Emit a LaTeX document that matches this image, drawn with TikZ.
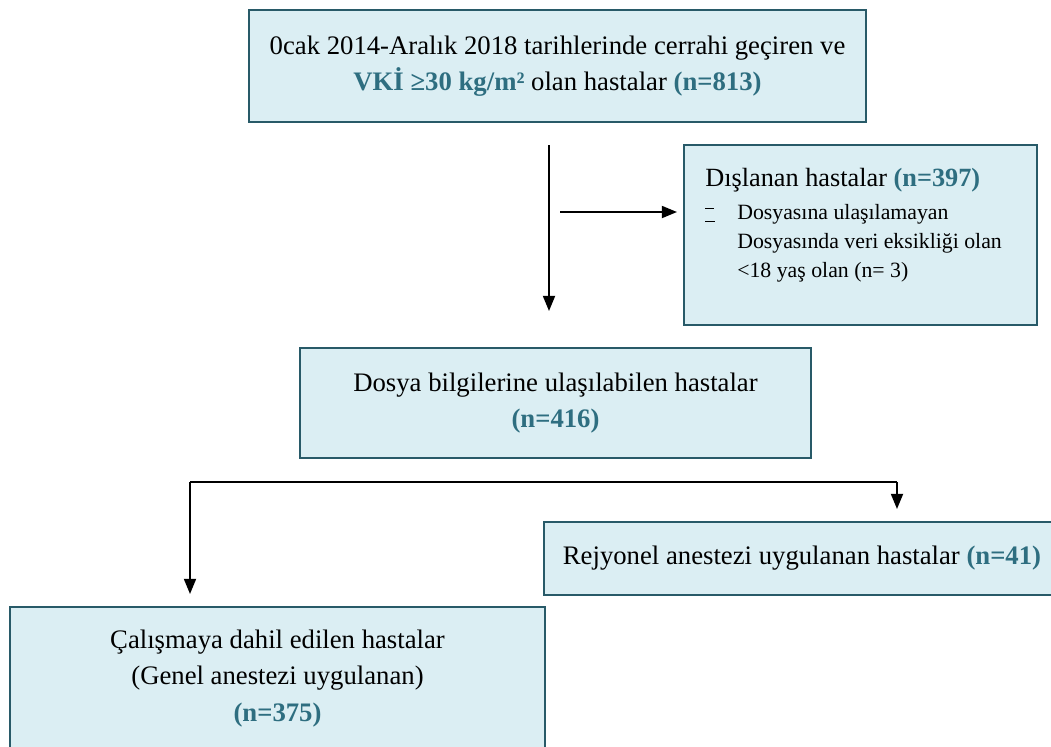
\documentclass[tikz,border=0pt]{standalone}
\usepackage{fontspec}
\setmainfont{Liberation Serif}
\usepackage{tikz}
\usetikzlibrary{arrows.meta}
\definecolor{boxfill}{HTML}{DBEEF3}
\definecolor{boxline}{HTML}{285A68}
\definecolor{numcol}{HTML}{2E6E80}
\newcommand{\nval}[1]{\textbf{\textcolor{numcol}{#1}}}
\newcommand{\oddmark}{\rlap{\raisebox{1.1ex}{\rule{0.4em}{0.6pt}}}\raisebox{-0.2ex}{\rule{0.45em}{0.7pt}}}

\begin{document}
\begin{tikzpicture}[x=0.025cm, y=-0.025cm,
		node_style/.style={rectangle,draw=boxline,fill=boxfill,line width=1.5pt,align=center,
			font=\fontsize{19}{26}\selectfont},
		edge_style/.style={draw=black,line width=1.4pt,-{Triangle[length=0.38cm,width=0.3cm]}}]
		\useasboundingbox (0,0) rectangle (1051,746);
		\node[node_style, minimum width=15.425cm, minimum height=2.8cm] (n813) at (557.5,66)
			{0cak 2014-Aralık 2018 tarihlerinde cerrahi geçiren ve\\ \nval{VKİ ≥30 kg/m²} olan hastalar \nval{(n=813)}};
		\node[node_style, minimum width=8.825cm, minimum height=4.5cm] (n397) at (860.5,235) {};
		\node[anchor=north west, align=left, inner sep=0pt, font=\fontsize{15.5}{20.5}\selectfont] (n397_text) at (705,168)
			{{\fontsize{18.7}{20}\selectfont Dışlanan hastalar \nval{(n=397)}}\\[3pt]
			\makebox[0.8cm][l]{\oddmark}Dosyasına ulaşılamayan\\
			\hspace*{0.8cm}Dosyasında veri eksikliği olan\\
			\hspace*{0.8cm}<18 yaş olan (n= 3)};
		\node[node_style, minimum width=12.775cm, minimum height=2.75cm] (n416) at (555.5,403)
			{Dosya bilgilerine ulaşılabilen hastalar\\ \nval{(n=416)}};
		\node[node_style, minimum width=12.9cm, minimum height=1.825cm] (n41) at (802,558.5)
			{Rejyonel anestezi uygulanan hastalar \nval{(n=41)}};
		\node[node_style, minimum width=13.375cm, minimum height=3.575cm] (n375) at (277.5,678.5)
			{Çalışmaya dahil edilen hastalar\\ (Genel anestezi uygulanan)\\ \nval{(n=375)}};
		\coordinate (a_start) at (549,145);
		\coordinate (a_end) at (549,311);
		\coordinate (b_start) at (560,212);
		\coordinate (b_end) at (677,212);
		\coordinate (c_left) at (190,482);
		\coordinate (c_right) at (897,482);
		\coordinate (c_leftend) at (190,594);
		\coordinate (c_rightend) at (897,509);
		\draw[edge_style] (a_start) -- (a_end);
		\draw[edge_style] (b_start) -- (b_end);
		\draw[edge_style] (c_right) -- (c_rightend);
		\draw[edge_style] (c_left) -- (c_leftend);
		\draw[draw=black,line width=1.4pt] (c_left) -- (c_right);
\end{tikzpicture}
\end{document}
